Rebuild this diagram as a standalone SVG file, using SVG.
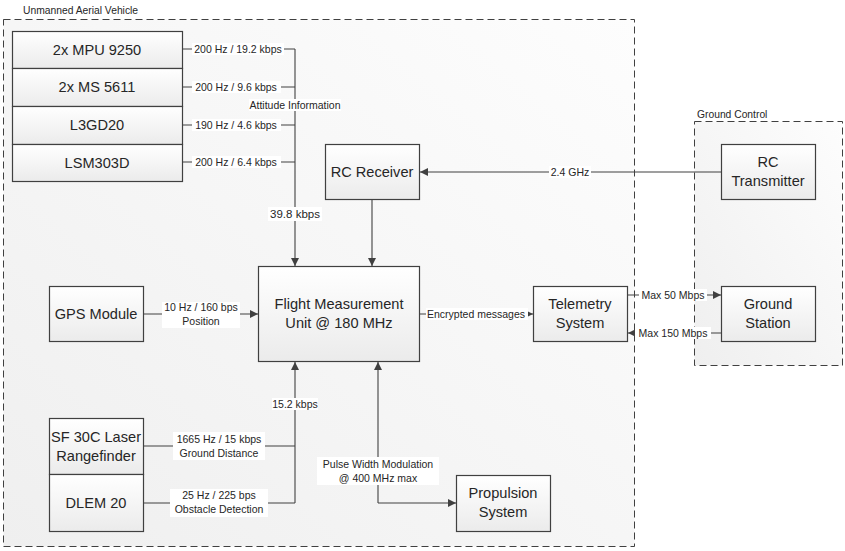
<svg xmlns="http://www.w3.org/2000/svg" width="845" height="551" viewBox="0 0 845 551">
<style>
text{font-family:"Liberation Sans",Arial,sans-serif;fill:#262626;text-anchor:middle}
.box{fill:url(#bg);stroke:#404040;stroke-width:1.2}
.cont{fill:url(#cg);stroke:#404040;stroke-width:1;stroke-dasharray:7,4}
.t{font-size:14.6px}
.s{font-size:10.5px}
.c{font-size:10.3px;text-anchor:start}
.ln{fill:none;stroke:#404040;stroke-width:1.1}
.arr{marker-end:url(#ah)}
.lb{fill:#ffffff}
</style>
<defs>
<linearGradient id="bg" x1="0" y1="0" x2="0" y2="1">
<stop offset="0" stop-color="#ffffff"/>
<stop offset="1" stop-color="#ebebeb"/>
</linearGradient>
<linearGradient id="cg" x1="1" y1="0" x2="0" y2="1">
<stop offset="0" stop-color="#fdfdfd"/>
<stop offset="1" stop-color="#efefef"/>
</linearGradient>
<marker id="ah" viewBox="0 0 10 10" refX="10" refY="5" markerWidth="10" markerHeight="8" markerUnits="userSpaceOnUse" orient="auto">
<path d="M0,0 L10,5 L0,10 z" fill="#404040"/>
</marker>
</defs>

<g id="uav">
<rect class="cont" x="3.5" y="19.5" width="631" height="527"/>
<text class="c" x="23" y="14">Unmanned Aerial Vehicle</text>
</g>
<g id="ground-control">
<rect class="cont" x="694.5" y="121.5" width="148" height="244"/>
<text class="c" x="697" y="118">Ground Control</text>
</g>

<g id="connectors">
<path class="ln" d="M183,49 H295 M183,87 H295 M183,125 H295 M183,162 H295"/>
<path class="ln arr" d="M295,49 V266"/>
<path class="ln arr" d="M372,200 V266"/>
<path class="ln arr" d="M144,314 H258"/>
<path class="ln" d="M144,446 H295 M144,503 H295"/>
<path class="ln arr" d="M295,503 V362"/>
<path class="ln arr" d="M378,503 V362"/>
<path class="ln arr" d="M378,503 H456"/>
<path class="ln arr" d="M420,314 H533"/>
<path class="ln arr" d="M721,172 H420"/>
<path class="ln arr" d="M628,295 H721"/>
<path class="ln arr" d="M721,333 H628"/>

<rect class="lb" x="192" y="43" width="92" height="12"/>
<text class="s" x="238" y="53">200 Hz / 19.2 kbps</text>
<rect class="lb" x="192" y="81" width="89" height="12"/>
<text class="s" x="236" y="91">200 Hz / 9.6 kbps</text>
<rect class="lb" x="192" y="119" width="89" height="12"/>
<text class="s" x="236" y="129">190 Hz / 4.6 kbps</text>
<rect class="lb" x="192" y="156" width="89" height="12"/>
<text class="s" x="236" y="166">200 Hz / 6.4 kbps</text>
<rect class="lb" x="249" y="99" width="92" height="12"/>
<text class="s" x="295" y="109">Attitude Information</text>
<rect class="lb" x="268" y="207" width="54" height="14"/>
<text style="font-size:11.5px" x="295" y="218">39.8 kbps</text>
<rect class="lb" x="162" y="302" width="78" height="26"/>
<text class="s" x="201" y="311">10 Hz / 160 bps</text>
<text class="s" x="201" y="325">Position</text>
<rect class="lb" x="272" y="398" width="46" height="12"/>
<text class="s" x="295" y="408">15.2 kbps</text>
<rect class="lb" x="173" y="432" width="92" height="28"/>
<text class="s" x="219" y="443">1665 Hz / 15 kbps</text>
<text class="s" x="219" y="457">Ground Distance</text>
<rect class="lb" x="170" y="489" width="98" height="28"/>
<text class="s" x="219" y="499">25 Hz / 225 bps</text>
<text class="s" x="219" y="513">Obstacle Detection</text>
<rect class="lb" x="317" y="457" width="122" height="28"/>
<text class="s" x="378" y="468">Pulse Width Modulation</text>
<text class="s" x="378" y="482">@ 400 MHz max</text>
<rect class="lb" x="426" y="308" width="102" height="12"/>
<text class="s" x="476" y="318">Encrypted messages</text>
<rect class="lb" x="549" y="166" width="42" height="12"/>
<text class="s" x="570" y="176">2.4 GHz</text>
<rect class="lb" x="639" y="289" width="68" height="12"/>
<text class="s" x="673" y="299">Max 50 Mbps</text>
<rect class="lb" x="635" y="327" width="76" height="12"/>
<text class="s" x="673" y="337">Max 150 Mbps</text>
</g>

<g id="mpu9250"><rect class="box" x="12.5" y="31.5" width="170" height="37"/><text class="t" x="97" y="55">2x MPU 9250</text></g>
<g id="ms5611"><rect class="box" x="12.5" y="68.5" width="170" height="38"/><text class="t" x="97" y="92">2x MS 5611</text></g>
<g id="l3gd20"><rect class="box" x="12.5" y="106.5" width="170" height="38"/><text class="t" x="97" y="130">L3GD20</text></g>
<g id="lsm303d"><rect class="box" x="12.5" y="144.5" width="170" height="37"/><text class="t" x="97" y="168">LSM303D</text></g>

<g id="rc-receiver"><rect class="box" x="325.5" y="144.5" width="94" height="55"/><text class="t" x="372" y="177">RC Receiver</text></g>
<g id="fmu"><rect class="box" x="258.5" y="266.5" width="161" height="95"/><text class="t" x="339" y="309">Flight Measurement</text><text class="t" x="339" y="328">Unit @ 180 MHz</text></g>
<g id="gps"><rect class="box" x="49.5" y="286.5" width="94" height="55"/><text class="t" x="96" y="319">GPS Module</text></g>
<g id="sf30c"><rect class="box" x="49.5" y="418.5" width="94" height="56"/><text class="t" x="96" y="442">SF 30C Laser</text><text class="t" x="96" y="461">Rangefinder</text></g>
<g id="dlem20"><rect class="box" x="49.5" y="474.5" width="94" height="57"/><text class="t" x="96" y="508">DLEM 20</text></g>
<g id="propulsion"><rect class="box" x="456.5" y="475.5" width="94" height="56"/><text class="t" x="503" y="498">Propulsion</text><text class="t" x="503" y="517">System</text></g>
<g id="telemetry"><rect class="box" x="533.5" y="286.5" width="94" height="55"/><text class="t" x="580" y="309">Telemetry</text><text class="t" x="580" y="328">System</text></g>
<g id="rc-transmitter"><rect class="box" x="721.5" y="144.5" width="94" height="55"/><text class="t" x="768" y="167">RC</text><text class="t" x="768" y="186">Transmitter</text></g>
<g id="ground-station"><rect class="box" x="721.5" y="286.5" width="94" height="55"/><text class="t" x="768" y="309">Ground</text><text class="t" x="768" y="328">Station</text></g>
</svg>
